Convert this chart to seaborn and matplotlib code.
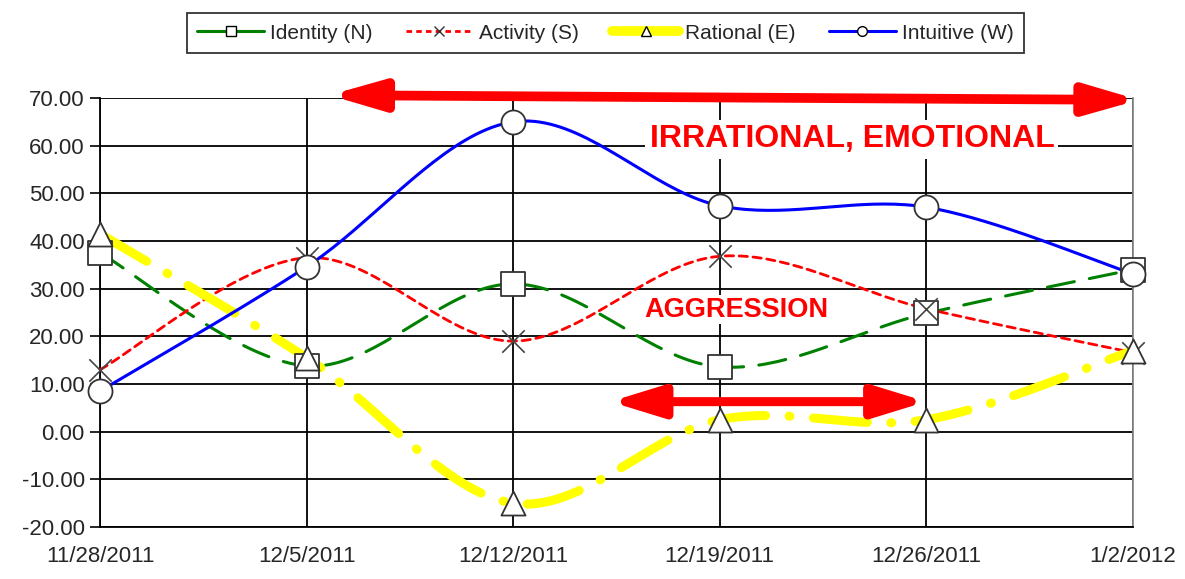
import numpy as np
import pandas as pd
import matplotlib.pyplot as plt
import seaborn as sns
from matplotlib.lines import Line2D

# Data
dates = ['11/28/2011', '12/5/2011', '12/12/2011', '12/19/2011', '12/26/2011', '1/2/2012']
identity = [37.5, 13.8, 31.0, 13.6, 24.8, 34.0]
activity = [13.0, 36.5, 19.0, 36.8, 25.8, 16.6]
rational = [41.5, 15.5, -15.0, 2.5, 2.5, 17.0]
intuitive = [8.5, 34.6, 65.0, 47.4, 47.1, 33.1]
y_ticks = [-20, -10, 0, 10, 20, 30, 40, 50, 60, 70]

series = {
    'Identity (N)': identity,
    'Activity (S)': activity,
    'Rational (E)': rational,
    'Intuitive (W)': intuitive,
}
styles = {
    'Identity (N)': dict(color='#008000', lw=2.2, dashes=(9, 5), marker='s'),
    'Activity (S)': dict(color='#ff0000', lw=2.0, dashes=(3, 2), marker='x'),
    'Rational (E)': dict(color='#ffff00', lw=6.5, dashes=(6, 2.6, 0.1, 2.6), marker='^'),
    'Intuitive (W)': dict(color='#0000ff', lw=2.2, dashes=None, marker='o'),
}


def smooth(xs, ys, n=40):
    # Excel-like smoothed line: cubic Bezier with Catmull-Rom control points
    xs = np.asarray(xs, float)
    ys = np.asarray(ys, float)
    px = np.r_[xs[0], xs, xs[-1]]
    py = np.r_[ys[0], ys, ys[-1]]
    outx, outy = [], []
    t = np.linspace(0, 1, n)
    for i in range(1, len(px) - 2):
        p0 = np.array([px[i], py[i]])
        p3 = np.array([px[i + 1], py[i + 1]])
        c1 = p0 + (np.array([px[i + 1], py[i + 1]]) - np.array([px[i - 1], py[i - 1]])) / 6
        c2 = p3 - (np.array([px[i + 2], py[i + 2]]) - np.array([px[i], py[i]])) / 6
        b = ((1 - t) ** 3)[:, None] * p0 + (3 * (1 - t) ** 2 * t)[:, None] * c1 \
            + (3 * (1 - t) * t ** 2)[:, None] * c2 + (t ** 3)[:, None] * p3
        outx.extend(b[:, 0])
        outy.extend(b[:, 1])
    return np.array(outx), np.array(outy)


sns.set_theme(style="white")
plt.rcParams['font.family'] = ['Liberation Sans', 'DejaVu Sans']

fig = plt.figure(figsize=(11.85, 5.79), dpi=100)
ax = fig.add_axes([0.0844, 0.0898, 0.8716, 0.7409])

x = np.arange(len(dates))
for i, (name, vals) in enumerate(series.items()):
    st = styles[name]
    sx, sy = smooth(x, vals)
    line, = ax.plot(sx, sy, color=st['color'], lw=st['lw'], zorder=3 + i * 0.1,
                    solid_capstyle='round', dash_capstyle='round', clip_on=False)
    if st['dashes']:
        line.set_dashes(st['dashes'])

df = pd.DataFrame([(xi, v, name) for name, vals in series.items() for xi, v in zip(x, vals)],
                  columns=['x', 'value', 'series'])
for name in series:
    st = styles[name]
    d = df[df['series'] == name]
    if st['marker'] == 'x':
        sns.scatterplot(data=d, x='x', y='value', marker='x', s=260, color='#444444',
                        linewidth=1.2, ax=ax, zorder=6, legend=False, clip_on=False)
    else:
        sns.scatterplot(data=d, x='x', y='value', marker=st['marker'], s=300, color='white',
                        edgecolor='#333333', linewidth=1.3, ax=ax, zorder=6, legend=False,
                        clip_on=False)

ax.set_xlim(0, 5)
ax.set_ylim(-20, 70)
ax.set_yticks(y_ticks)
ax.set_yticklabels([f'{v:.2f}' for v in y_ticks], fontsize=16)
ax.set_xticks(x)
ax.set_xticklabels(dates, fontsize=16)
ax.tick_params(axis='x', pad=14, length=0)
ax.tick_params(axis='y', pad=4, length=7, width=1.2, left=True, direction='out', color='black')
ax.set_xlabel('')
ax.set_ylabel('')
for yv in y_ticks:
    ax.axhline(yv, color='black', lw=1.3, zorder=1)
for xv in x:
    ax.axvline(xv, color='black', lw=1.3, zorder=1)
ax.spines['top'].set_visible(False)
ax.spines['left'].set_color('black')
ax.spines['bottom'].set_color('black')
ax.spines['right'].set_color('#888888')
ax.spines['left'].set_linewidth(1.3)
ax.spines['bottom'].set_linewidth(1.3)

# annotations
ax.annotate('', xy=(1.11, 70.6), xytext=(5.03, 69.6), annotation_clip=False,
            arrowprops=dict(arrowstyle='<|-|>,head_length=2.6,head_width=0.75', color='#ff0000',
                            lw=7, shrinkA=0, shrinkB=0), zorder=8)
ax.annotate('', xy=(2.47, 6.3), xytext=(4.0, 6.3),
            arrowprops=dict(arrowstyle='<|-|>,head_length=2.6,head_width=0.8', color='#ff0000',
                            lw=6.5, shrinkA=0, shrinkB=0), zorder=8)
ax.text(3.64, 61.3, 'IRRATIONAL, EMOTIONAL', color='#ff0000', fontsize=23, fontweight='bold',
        ha='center', va='center', zorder=7,
        bbox=dict(facecolor='white', edgecolor='none', pad=3))
ax.text(3.08, 25.6, 'AGGRESSION', color='#ff0000', fontsize=19.5, fontweight='bold',
        ha='center', va='center', zorder=7,
        bbox=dict(facecolor='white', edgecolor='none', pad=1))

# legend
handles = []
for name in series:
    st = styles[name]
    mk = dict(marker=st['marker'], markersize=7, markerfacecolor='white',
              markeredgecolor='black', markeredgewidth=1)
    if st['marker'] == 'x':
        mk['markeredgecolor'] = '#333333'
    h = Line2D([0], [0], color=st['color'], lw=st['lw'] if name != 'Rational (E)' else 7,
               linestyle='-' if name != 'Activity (S)' else (0, (2, 1.5)), **mk)
    handles.append(h)
leg = fig.legend(handles, list(series.keys()), loc='center', bbox_to_anchor=(0.511, 0.943),
                 ncol=4, fontsize=15, frameon=True, fancybox=False, edgecolor='black',
                 handlelength=3.2, handletextpad=0.3, columnspacing=1.6, borderpad=0.5,
                 borderaxespad=0)
leg.get_frame().set_linewidth(1.3)

fig.savefig('out.png', dpi=100)
